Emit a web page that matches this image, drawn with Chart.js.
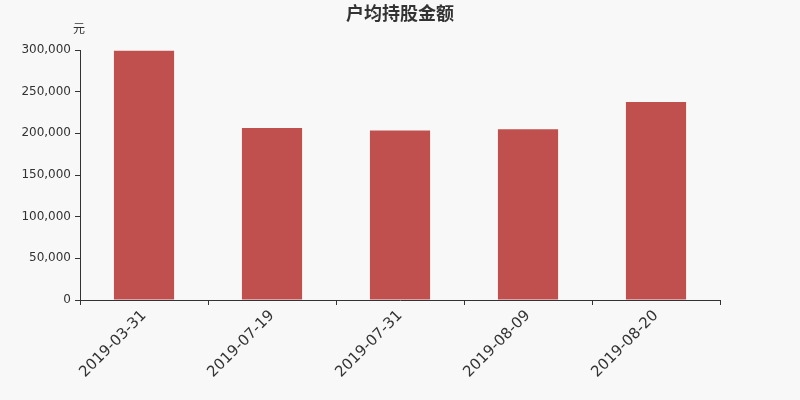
<!DOCTYPE html>
<html>
<head>
<meta charset="utf-8">
<script src="https://cdn.jsdelivr.net/npm/chart.js@4/dist/chart.umd.min.js"></script>
<style>
  html, body { margin: 0; padding: 0; background: #f8f8f8; }
  #wrap { width: 800px; height: 400px; }
</style>
</head>
<body>
<div id="wrap"><canvas id="myChart" width="800" height="400"></canvas></div>
<script>
const title = '户均持股金额'
const unit = '元'
const dates = ['2019-03-31', '2019-07-19', '2019-07-31', '2019-08-09', '2019-08-20']
const amounts = [299200, 206300, 203500, 204800, 237600]
const yMax = 300000
const yStep = 50000

// title and unit label drawn by hand
const textPlugin = {
    id: 'textPlugin',
    afterDraw(chart) {
        const ctx = chart.ctx
        ctx.save()
        ctx.fillStyle = '#333'
        ctx.textAlign = 'center'
        ctx.textBaseline = 'middle'
        ctx.font = 'bold 18px "Noto Sans CJK SC"'
        ctx.fillText(title, 400, 13)
        ctx.font = '12px "Noto Sans CJK SC"'
        ctx.fillText(unit, 79, 28)
        ctx.restore()
    }
}

const bgPlugin = {
    id: 'bg',
    beforeDraw(chart) {
        const ctx = chart.ctx
        ctx.save()
        ctx.fillStyle = '#f8f8f8'
        ctx.fillRect(0, 0, chart.width, chart.height)
        ctx.restore()
    }
}

new Chart(document.getElementById('myChart'), {
    type: 'bar',
    data: {
        labels: dates,
        datasets: [{
            data: amounts,
            backgroundColor: '#c0504d',
            barPercentage: 0.47,
            categoryPercentage: 1
        }]
    },
    options: {
        responsive: false,
        animation: false,
        layout: { padding: { top: 50, right: 80, left: 0, bottom: 0 } },
        plugins: {
            legend: { display: false },
            tooltip: { enabled: false }
        },
        scales: {
            x: {
                offset: true,
                grid: {
                    offset: true,
                    drawOnChartArea: false,
                    drawTicks: true,
                    tickLength: 5,
                    color: '#333'
                },
                border: { color: '#333', width: 1 },
                ticks: {
                    color: '#333',
                    font: { family: 'DejaVu Sans', size: 15 },
                    maxRotation: 45,
                    minRotation: 45,
                    padding: 2
                },
                afterFit(scale) { scale.height = 100 }
            },
            y: {
                min: 0,
                max: yMax,
                grid: {
                    drawOnChartArea: false,
                    tickLength: 5,
                    color: '#333'
                },
                border: { color: '#333', width: 1 },
                ticks: {
                    stepSize: yStep,
                    color: '#333',
                    font: { family: 'DejaVu Sans', size: 12 },
                    padding: 4,
                    callback: v => v.toLocaleString('en-US')
                },
                afterFit(scale) { scale.width = 80 }
            }
        }
    },
    plugins: [bgPlugin, textPlugin]
})
</script>
</body>
</html>
